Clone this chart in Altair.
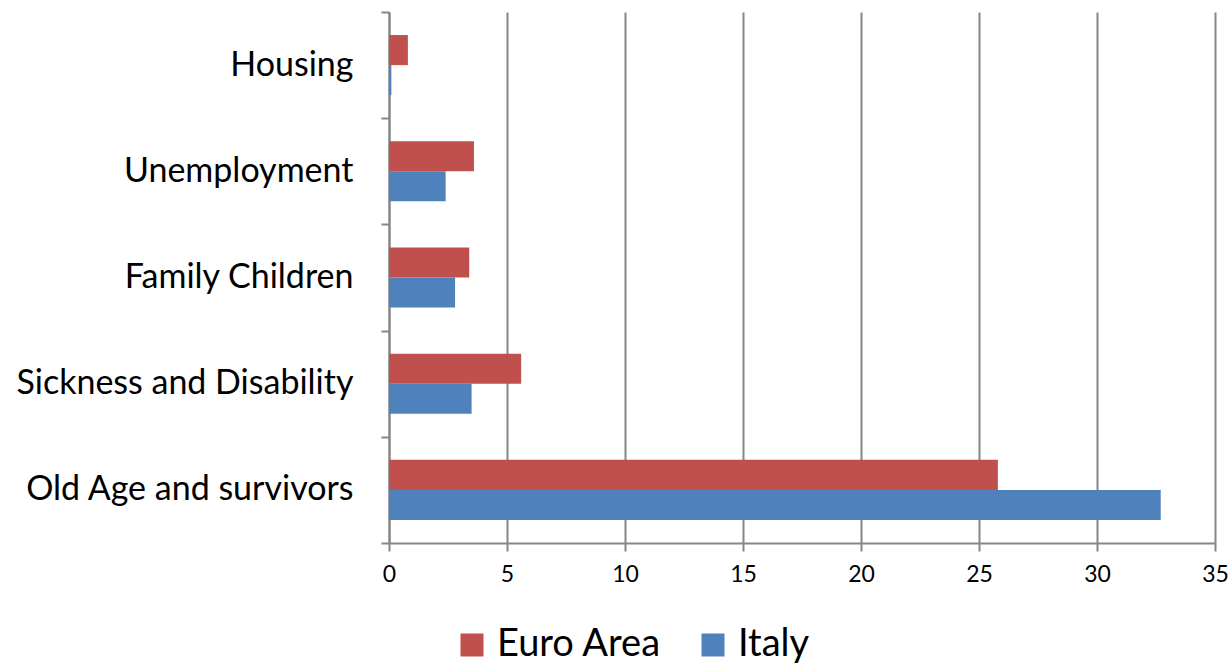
import altair as alt
import pandas as pd

categories = ["Housing", "Unemployment", "Family Children", "Sickness and Disability", "Old Age and survivors"]
euro_area = [0.8, 3.6, 3.4, 5.6, 25.8]
italy = [0.1, 2.4, 2.8, 3.5, 32.7]
series = ["Euro Area", "Italy"]
colors = ["#C0504D", "#4F81BD"]

rows = []
for c, e, i in zip(categories, euro_area, italy):
    rows.append({"category": c, "series": "Euro Area", "value": e})
    rows.append({"category": c, "series": "Italy", "value": i})
df = pd.DataFrame(rows)

FONT = "Lato"
GRID = "#868686"

chart = alt.Chart(df).mark_bar(stroke=None).encode(
    x=alt.X("value:Q",
            scale=alt.Scale(domain=[0, 35], nice=False),
            axis=alt.Axis(values=[0, 5, 10, 15, 20, 25, 30, 35], title=None,
                          grid=True, gridColor=GRID, gridWidth=2,
                          domainColor=GRID, domainWidth=2,
                          tickColor=GRID, tickWidth=2, tickSize=8,
                          labelFont=FONT, labelFontSize=23, labelColor="black",
                          labelFlush=False, labelPadding=12)),
    y=alt.Y("category:N", sort=categories,
            scale=alt.Scale(paddingInner=0, paddingOuter=0),
            axis=alt.Axis(title=None, tickBand="extent",
                          domainColor=GRID, domainWidth=2,
                          tickColor=GRID, tickWidth=2, tickSize=8,
                          labelFont=FONT, labelFontSize=34, labelColor="black",
                          labelLimit=0, labelPadding=28)),
    yOffset=alt.YOffset("series:N", sort=series,
                        scale=alt.Scale(paddingInner=0, paddingOuter=0.767)),
    color=alt.Color("series:N", sort=series,
                    scale=alt.Scale(domain=series, range=colors),
                    legend=alt.Legend(title=None, orient="none", direction="horizontal",
                                      legendX=64, legendY=614,
                                      symbolType="square", symbolSize=529,
                                      symbolStrokeWidth=0, labelLimit=0,
                                      labelFont=FONT, labelFontSize=38, labelColor="black",
                                      labelOffset=6, columnPadding=32)),
).properties(
    width=826, height=531,
    autosize=alt.AutoSizeParams(type="none"),
    padding={"left": 389, "top": 12, "right": 16, "bottom": 121},
).configure_view(stroke=None)

chart.save("out.html", embed_options={"renderer": "svg", "actions": False})
